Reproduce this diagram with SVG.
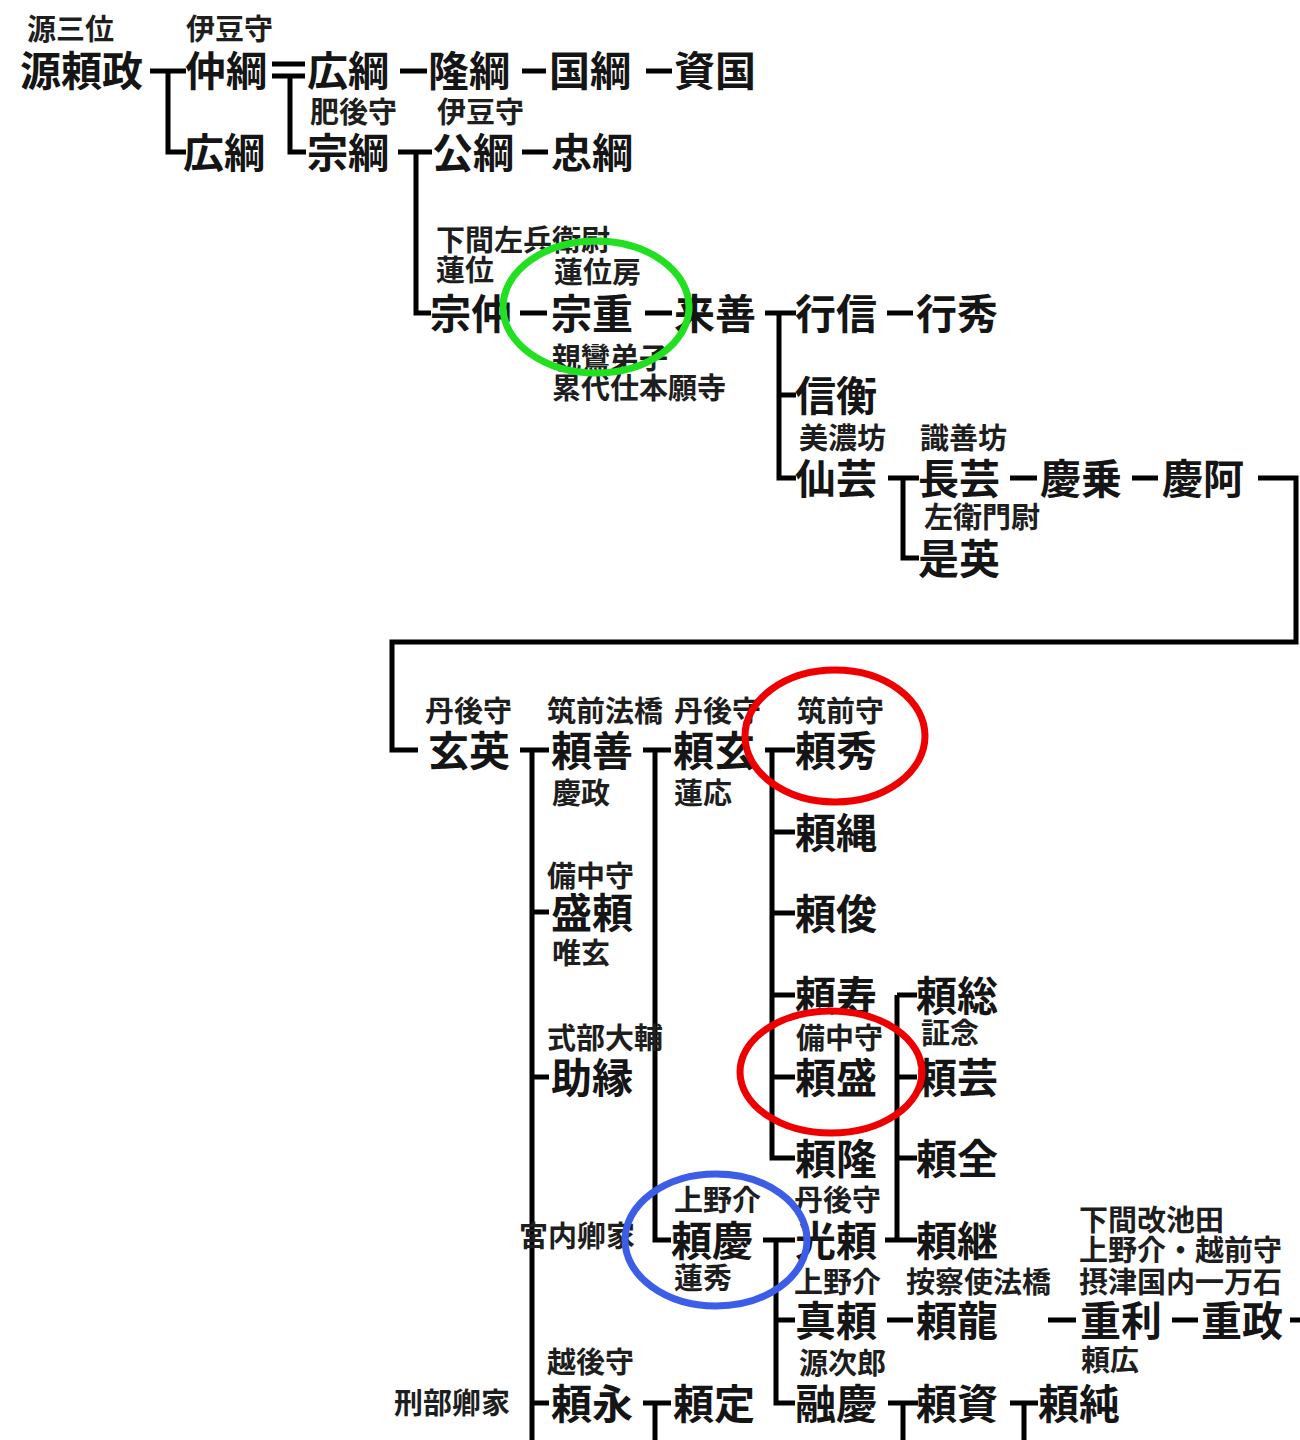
<svg xmlns="http://www.w3.org/2000/svg" width="1300" height="1440" viewBox="0 0 1300 1440">
<style>
.m{font-family:"Noto Sans CJK JP",sans-serif;font-size:41px;font-weight:700;fill:#151515}
.s{font-family:"Noto Sans CJK JP",sans-serif;font-size:29px;font-weight:700;fill:#1e1e1e}
.c{fill:none;stroke:#000;stroke-width:5;stroke-linecap:butt;stroke-linejoin:miter}
.o{fill:none;stroke-width:7}
</style>
<rect width="1300" height="1440" fill="#fff"/>
<g id="connectors" class="c">
<path d="M150 71H186M168 71V152H186"/>
<path d="M272 64H305M272 76H305M290 76V152H306"/>
<path d="M400 71H427M522 71H546M646 71H672"/>
<path d="M398 152H432M416 152V313H431"/>
<path d="M522 152H548"/>
<path d="M520 313H547M645 313H672"/>
<path d="M765 313H796M779 313V478H796M779 395H796"/>
<path d="M887 313H913"/>
<path d="M888 478H919M903 478V558H919"/>
<path d="M1010 478H1037M1132 478H1158"/>
<path d="M1258 478H1296V642H392V750H418"/>
<path d="M520 750H549M532 750V1440M532 912H549M532 1077H549M532 1403H549"/>
<path d="M643 750H671M655 750V1240H671"/>
<path d="M765 750H795M772 750V1158H795M772 832H795M772 913H795M772 995H795M772 1077H795"/>
<path d="M897 995V1240M897 995H917M897 1077H917M897 1158H917M885 1240H917"/>
<path d="M763 1240H795M776 1240V1403H795M776 1320H795"/>
<path d="M887 1320H913M1048 1320H1076M1172 1320H1198M1290 1320H1300"/>
<path d="M888 1403H918M903 1403V1440"/>
<path d="M1010 1403H1038M1024 1403V1440"/>
<path d="M643 1403H671M655 1403V1440"/>
</g>
<g id="n1"><text class="s" x="27" y="40">源三位</text><text class="m" x="20" y="86">源頼政</text></g>
<g id="n2"><text class="s" x="186" y="40">伊豆守</text><text class="m" x="185" y="86">仲綱</text></g>
<g id="n3"><text class="m" x="183" y="168">広綱</text></g>
<g id="n4"><text class="m" x="307" y="86">広綱</text></g>
<g id="n5"><text class="m" x="428" y="86">隆綱</text></g>
<g id="n6"><text class="m" x="549" y="86">国綱</text></g>
<g id="n7"><text class="m" x="674" y="86">資国</text></g>
<g id="n8"><text class="s" x="310" y="123">肥後守</text><text class="m" x="307" y="168">宗綱</text></g>
<g id="n9"><text class="s" x="437" y="123">伊豆守</text><text class="m" x="432" y="168">公綱</text></g>
<g id="n10"><text class="m" x="551" y="168">忠綱</text></g>
<g id="n11"><text class="s" x="436" y="251">下間左兵衛尉</text><text class="s" x="436" y="281">蓮位</text><text class="m" x="430" y="329">宗仲</text></g>
<g id="n12"><text class="s" x="554" y="283">蓮位房</text><text class="m" x="551" y="329">宗重</text><text class="s" x="552" y="369">親鸞弟子</text><text class="s" x="552" y="399">累代仕本願寺</text></g>
<g id="n13"><text class="m" x="674" y="329">来善</text></g>
<g id="n14"><text class="m" x="795" y="329">行信</text></g>
<g id="n15"><text class="m" x="916" y="329">行秀</text></g>
<g id="n16"><text class="m" x="795" y="411">信衡</text></g>
<g id="n17"><text class="s" x="799" y="449">美濃坊</text><text class="m" x="795" y="494">仙芸</text></g>
<g id="n18"><text class="s" x="920" y="449">識善坊</text><text class="m" x="918" y="494">長芸</text></g>
<g id="n19"><text class="m" x="1040" y="494">慶乗</text></g>
<g id="n20"><text class="m" x="1162" y="494">慶阿</text></g>
<g id="n21"><text class="s" x="924" y="528">左衛門尉</text><text class="m" x="918" y="574">是英</text></g>
<g id="n22"><text class="s" x="425" y="722">丹後守</text><text class="m" x="428" y="766">玄英</text></g>
<g id="n23"><text class="s" x="547" y="722">筑前法橋</text><text class="m" x="551" y="766">頼善</text><text class="s" x="552" y="804">慶政</text></g>
<g id="n24"><text class="s" x="674" y="722">丹後守</text><text class="m" x="673" y="766">頼玄</text><text class="s" x="674" y="804">蓮応</text></g>
<g id="n25"><text class="s" x="797" y="722">筑前守</text><text class="m" x="795" y="766">頼秀</text></g>
<g id="n26"><text class="m" x="795" y="848">頼縄</text></g>
<g id="n27"><text class="m" x="795" y="929">頼俊</text></g>
<g id="n28"><text class="m" x="795" y="1011">頼寿</text></g>
<g id="n29"><text class="s" x="796" y="1049">備中守</text><text class="m" x="795" y="1093">頼盛</text></g>
<g id="n30"><text class="m" x="795" y="1174">頼隆</text></g>
<g id="n31"><text class="s" x="794" y="1211">丹後守</text><text class="m" x="795" y="1256">光頼</text></g>
<g id="n32"><text class="m" x="916" y="1011">頼総</text><text class="s" x="921" y="1044">証念</text></g>
<g id="n33"><text class="m" x="916" y="1093">頼芸</text></g>
<g id="n34"><text class="m" x="916" y="1174">頼全</text></g>
<g id="n35"><text class="m" x="916" y="1256">頼継</text></g>
<g id="n36"><text class="s" x="547" y="887">備中守</text><text class="m" x="551" y="928">盛頼</text><text class="s" x="552" y="964">唯玄</text></g>
<g id="n37"><text class="s" x="547" y="1049">式部大輔</text><text class="m" x="551" y="1093">助縁</text></g>
<g id="n38"><text class="s" x="519" y="1247">宮内卿家</text><text class="s" x="674" y="1211">上野介</text><text class="m" x="671" y="1256">頼慶</text><text class="s" x="674" y="1289">蓮秀</text></g>
<g id="n39"><text class="s" x="794" y="1293">上野介</text><text class="m" x="795" y="1336">真頼</text></g>
<g id="n40"><text class="s" x="906" y="1293">按察使法橋</text><text class="m" x="916" y="1336">頼龍</text></g>
<g id="n41"><text class="s" x="1079" y="1231">下間改池田</text><text class="s" x="1079" y="1261">上野介・越前守</text><text class="s" x="1079" y="1293">摂津国内一万石</text><text class="m" x="1080" y="1336">重利</text><text class="s" x="1081" y="1371">頼広</text></g>
<g id="n42"><text class="m" x="1201" y="1336">重政</text></g>
<g id="n43"><text class="s" x="799" y="1374">源次郎</text><text class="m" x="795" y="1419">融慶</text></g>
<g id="n44"><text class="m" x="916" y="1419">頼資</text></g>
<g id="n45"><text class="m" x="1038" y="1419">頼純</text></g>
<g id="n46"><text class="s" x="394" y="1414">刑部卿家</text><text class="s" x="547" y="1373">越後守</text><text class="m" x="551" y="1419">頼永</text></g>
<g id="n47"><text class="m" x="673" y="1419">頼定</text></g>
<g id="highlights">
<ellipse class="o" cx="596" cy="307" rx="93" ry="66" stroke="#20e020"/>
<ellipse class="o" cx="835" cy="736" rx="90" ry="66" stroke="#ee0000"/>
<ellipse class="o" cx="831" cy="1072" rx="91" ry="61" stroke="#ee0000"/>
<ellipse class="o" cx="716" cy="1240" rx="91" ry="66" stroke="#3b5de7"/>
</g>
</svg>
